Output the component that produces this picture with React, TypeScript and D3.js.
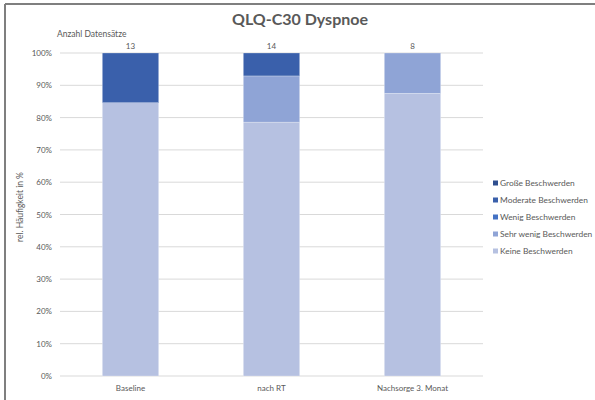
import React from "react";
import * as d3 from "d3";

const categories = ["Baseline", "nach RT", "Nachsorge 3. Monat"];
const counts = [13, 14, 8];
const seriesNames = ["Große Beschwerden", "Moderate Beschwerden", "Wenig Beschwerden", "Sehr wenig Beschwerden", "Keine Beschwerden"];
const seriesColors = ["#2F4F8F", "#3A60AB", "#4472C4", "#8FA4D6", "#B6C1E1"];
// values in % per category
const keine = [84.6, 78.6, 87.5];
const sehrWenig = [0, 14.3, 12.5];
const wenig = [0, 0, 0];
const moderate = [15.4, 7.1, 0];
const grosse = [0, 0, 0];
const yTicks = [0, 10, 20, 30, 40, 50, 60, 70, 80, 90, 100];

const font = "Lato, 'Open Sans', sans-serif";

export default function App() {
  const W = 595, H = 400;
  const plotL = 60, plotR = 483, plotT = 53, plotB = 376;
  const x = d3.scaleBand().domain(categories).range([plotL, plotR]).paddingInner(0.6).paddingOuter(0.3);
  const y = d3.scaleLinear().domain([0, 100]).range([plotB, plotT]);

  const stackOrder = [
    { name: "Keine Beschwerden", vals: keine, color: seriesColors[4] },
    { name: "Sehr wenig Beschwerden", vals: sehrWenig, color: seriesColors[3] },
    { name: "Wenig Beschwerden", vals: wenig, color: seriesColors[2] },
    { name: "Moderate Beschwerden", vals: moderate, color: seriesColors[1] },
    { name: "Große Beschwerden", vals: grosse, color: seriesColors[0] },
  ];
  const data = categories.map((c, i) => {
    const o: any = { cat: c };
    stackOrder.forEach((s) => (o[s.name] = s.vals[i]));
    return o;
  });
  const stack = d3.stack<any>().keys(stackOrder.map((s) => s.name))(data);

  return (
    <svg width={W} height={H} style={{ position: "absolute", left: 0, top: 0, fontFamily: font }}>
      <rect x={0} y={0} width={W} height={H} fill="#fff" />
      <line x1={5} y1={4} x2={W} y2={4} stroke="#7f7f7f" strokeWidth={2} />
      <line x1={5} y1={4} x2={5} y2={H} stroke="#7f7f7f" strokeWidth={2} />
      <text x={300} y={25} textAnchor="middle" fontSize={16} fontWeight="bold" fill="#595959">QLQ-C30 Dyspnoe</text>
      <text x={57} y={37} fontSize={8.5} fill="#595959">Anzahl Datensätze</text>
      {yTicks.map((t) => (
        <g key={t}>
          <line x1={plotL} x2={plotR} y1={y(t)} y2={y(t)} stroke="#d9d9d9" strokeWidth={1} />
          <text x={52} y={y(t) + 3} textAnchor="end" fontSize={8} fill="#595959">{t}%</text>
        </g>
      ))}
      {stack.map((layer, li) => (
        <g key={layer.key} fill={stackOrder[li].color}>
          {layer.map((d, i) =>
            d[1] - d[0] > 0 ? (
              <rect key={i} x={x(categories[i])} width={x.bandwidth()} y={y(d[1])} height={y(d[0]) - y(d[1])} stroke="#fff" strokeOpacity={0.5} strokeWidth={0.5} />
            ) : null
          )}
        </g>
      ))}
      {categories.map((c, i) => (
        <g key={c}>
          <text x={(x(c) as number) + x.bandwidth() / 2} y={49} textAnchor="middle" fontSize={8} fill="#595959">{counts[i]}</text>
          <text x={(x(c) as number) + x.bandwidth() / 2} y={391} textAnchor="middle" fontSize={8} fill="#595959">{c}</text>
        </g>
      ))}
      <text transform={`translate(23,207) rotate(-90)`} textAnchor="middle" fontSize={8.5} fill="#595959">rel. Häufigkeit in %</text>
      {seriesNames.map((n, i) => {
        const ly = 186 + i * 17;
        return (
          <g key={n}>
            <rect x={493} y={ly - 5.5} width={5} height={5} fill={seriesColors[i]} />
            <text x={500} y={ly} fontSize={8.4} fill="#595959">{n}</text>
          </g>
        );
      })}
    </svg>
  );
}
